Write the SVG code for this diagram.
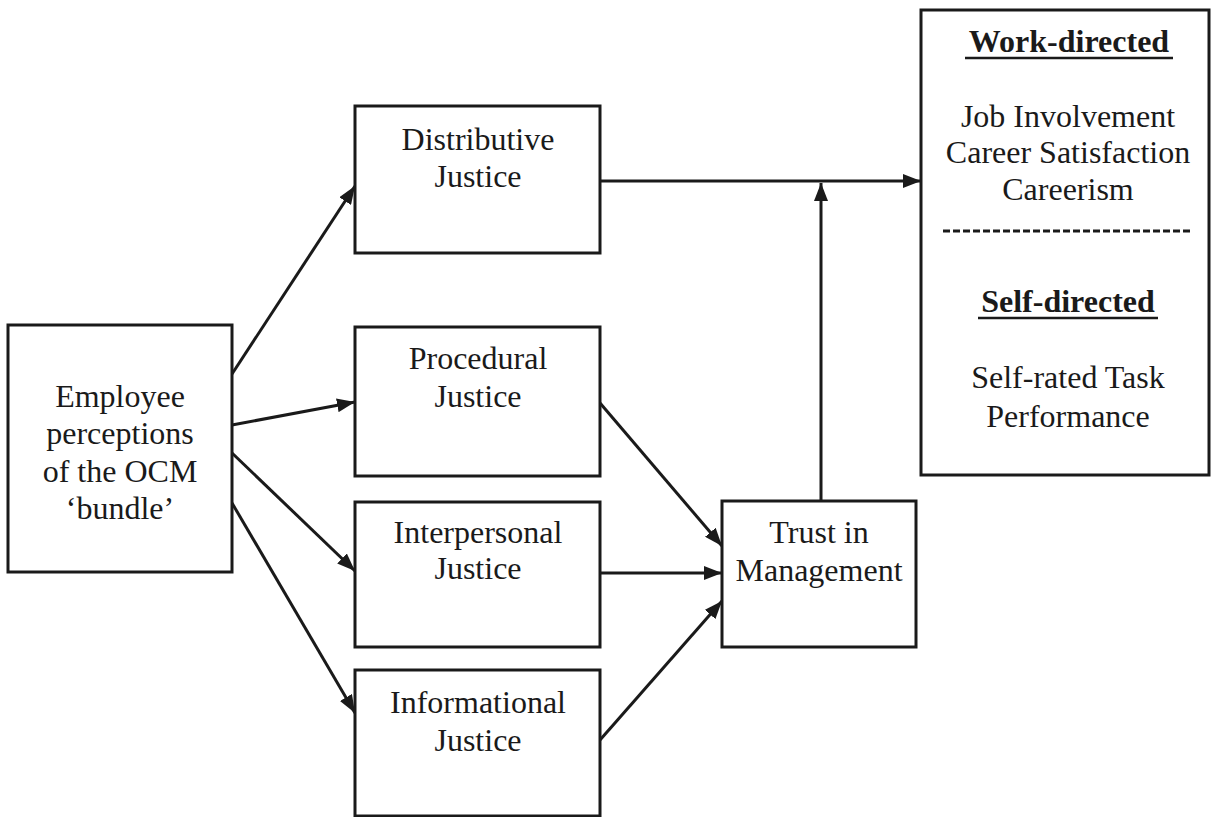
<svg xmlns="http://www.w3.org/2000/svg" width="1211" height="817" viewBox="0 0 1211 817">
<defs>
<style>
.box{fill:#fff;stroke:#1a1a1a;stroke-width:3}
.t{font-family:"Liberation Serif","Times New Roman",serif;font-size:32px;fill:#1a1a1a;text-anchor:middle}
.b{font-weight:bold}
.c{stroke:#1a1a1a;stroke-width:3;fill:none;marker-end:url(#ah)}
.u{stroke:#1a1a1a;stroke-width:2.5}
</style>
<marker id="ah" viewBox="0 0 18 14" refX="18" refY="7" markerWidth="18" markerHeight="14" markerUnits="userSpaceOnUse" orient="auto">
<path d="M0,0 L18,7 L0,14 z" fill="#1a1a1a"/>
</marker>
</defs>
<rect width="1211" height="817" fill="#fff"/>
<g id="connectors">
<line class="c" x1="232" y1="374" x2="355" y2="186"/>
<line class="c" x1="232" y1="425" x2="355" y2="402"/>
<line class="c" x1="232" y1="453" x2="355" y2="571"/>
<line class="c" x1="232" y1="503" x2="355" y2="713"/>
<line class="c" x1="600" y1="403" x2="722" y2="546"/>
<line class="c" x1="600" y1="573" x2="722" y2="573"/>
<line class="c" x1="600" y1="740" x2="722" y2="601"/>
<line class="c" x1="600" y1="181" x2="921" y2="181"/>
<line class="c" x1="821" y1="501" x2="821" y2="183"/>
</g>
<g id="employee">
<rect class="box" x="8" y="325" width="224" height="247"/>
<text class="t" x="120" y="407">Employee</text>
<text class="t" x="120" y="444">perceptions</text>
<text class="t" x="120" y="482">of the OCM</text>
<text class="t" x="120" y="519">‘bundle’</text>
</g>
<g id="distributive">
<rect class="box" x="355" y="106" width="245" height="147"/>
<text class="t" x="478" y="150">Distributive</text>
<text class="t" x="478" y="187">Justice</text>
</g>
<g id="procedural">
<rect class="box" x="355" y="327" width="245" height="149"/>
<text class="t" x="478" y="369">Procedural</text>
<text class="t" x="478" y="407">Justice</text>
</g>
<g id="interpersonal">
<rect class="box" x="355" y="502" width="245" height="145"/>
<text class="t" x="478" y="543">Interpersonal</text>
<text class="t" x="478" y="579">Justice</text>
</g>
<g id="informational">
<rect class="box" x="355" y="670" width="245" height="146"/>
<text class="t" x="478" y="713">Informational</text>
<text class="t" x="478" y="751">Justice</text>
</g>
<g id="trust">
<rect class="box" x="722" y="501" width="194" height="146"/>
<text class="t" x="819" y="543">Trust in</text>
<text class="t" x="819" y="581">Management</text>
</g>
<g id="outcomes">
<rect class="box" x="921" y="10" width="288" height="465"/>
<text class="t b" x="1069" y="52">Work-directed</text>
<line class="u" x1="965" y1="58" x2="1173" y2="58"/>
<text class="t" x="1068" y="127">Job Involvement</text>
<text class="t" x="1068" y="163">Career Satisfaction</text>
<text class="t" x="1068" y="200">Careerism</text>
<line x1="943" y1="231" x2="1192" y2="231" stroke="#1a1a1a" stroke-width="3" stroke-dasharray="7 3"/>
<text class="t b" x="1068" y="312">Self-directed</text>
<line class="u" x1="978" y1="318" x2="1158" y2="318"/>
<text class="t" x="1068" y="388">Self-rated Task</text>
<text class="t" x="1068" y="427">Performance</text>
</g>
</svg>
